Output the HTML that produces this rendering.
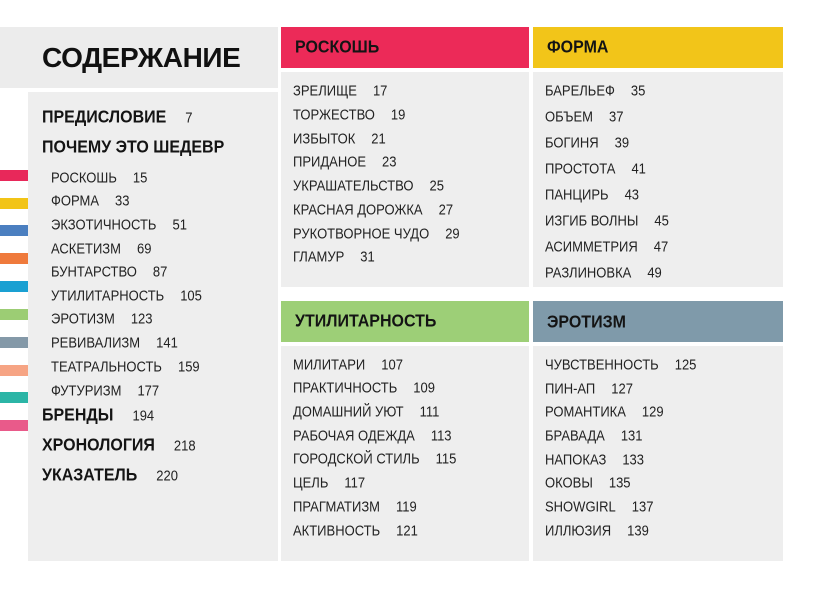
<!DOCTYPE html>
<html><head><meta charset="utf-8">
<style>
html,body{margin:0;padding:0;background:#fff;}
body{width:820px;height:589px;position:relative;overflow:hidden;font-family:"Liberation Sans","Noto Sans CJK SC",sans-serif;color:#222;}
.abs{position:absolute;}
.box{position:absolute;background:#eeeeee;}
.bar{position:absolute;left:0;width:28px;height:11px;}
.hd{position:absolute;}
.ht{position:absolute;font-weight:bold;font-size:16px;line-height:20px;color:#141414;white-space:nowrap;transform:scaleY(1.1);transform-origin:left center;}
.r{position:absolute;font-size:13px;line-height:20px;white-space:nowrap;color:#222;transform:scaleY(1.12);transform-origin:left center;}
.r span{margin-left:16px;}
.b{position:absolute;font-size:16px;font-weight:bold;line-height:20px;white-space:nowrap;color:#141414;transform:scaleY(1.1);transform-origin:left center;}
.b span{font-weight:normal;font-size:13px;margin-left:19px;color:#222;}
</style></head><body>

<!-- left column -->
<div class="box" style="left:0;top:27px;width:278px;height:61px;background:#ececec;"></div>
<div class="abs" style="left:42px;top:42px;font-size:28px;font-weight:bold;line-height:32px;color:#111;letter-spacing:-0.4px;white-space:nowrap;">СОДЕРЖАНИЕ</div>
<div class="box" style="left:28px;top:92px;width:250px;height:469px;"></div>

<div class="bar" style="top:170px;background:#e8285a;"></div>
<div class="bar" style="top:198px;background:#f2c416;"></div>
<div class="bar" style="top:225px;background:#4b7fc0;"></div>
<div class="bar" style="top:253px;background:#ef7a3c;"></div>
<div class="bar" style="top:281px;background:#1aa0d2;"></div>
<div class="bar" style="top:309px;background:#9ccd74;"></div>
<div class="bar" style="top:337px;background:#8499a8;"></div>
<div class="bar" style="top:365px;background:#f6a484;"></div>
<div class="bar" style="top:392px;background:#2bb5a6;"></div>
<div class="bar" style="top:420px;background:#e95a8a;"></div>

<div class="b" style="left:42px;top:108px;">ПРЕДИСЛОВИЕ<span>7</span></div>
<div class="b" style="left:42px;top:138px;">ПОЧЕМУ ЭТО ШЕДЕВР</div>
<div class="r" style="left:51px;top:168px;">РОСКОШЬ<span>15</span></div>
<div class="r" style="left:51px;top:191px;">ФОРМА<span>33</span></div>
<div class="r" style="left:51px;top:215px;">ЭКЗОТИЧНОСТЬ<span>51</span></div>
<div class="r" style="left:51px;top:239px;">АСКЕТИЗМ<span>69</span></div>
<div class="r" style="left:51px;top:262px;">БУНТАРСТВО<span>87</span></div>
<div class="r" style="left:51px;top:286px;">УТИЛИТАРНОСТЬ<span>105</span></div>
<div class="r" style="left:51px;top:309px;">ЭРОТИЗМ<span>123</span></div>
<div class="r" style="left:51px;top:333px;">РЕВИВАЛИЗМ<span>141</span></div>
<div class="r" style="left:51px;top:357px;">ТЕАТРАЛЬНОСТЬ<span>159</span></div>
<div class="r" style="left:51px;top:381px;">ФУТУРИЗМ<span>177</span></div>
<div class="b" style="left:42px;top:406px;">БРЕНДЫ<span>194</span></div>
<div class="b" style="left:42px;top:436px;">ХРОНОЛОГИЯ<span>218</span></div>
<div class="b" style="left:42px;top:466px;">УКАЗАТЕЛЬ<span>220</span></div>

<!-- РОСКОШЬ -->
<div class="hd" style="left:281px;top:27px;width:248px;height:41px;background:#ec2a58;"></div>
<div class="ht" style="left:295px;top:38px;">РОСКОШЬ</div>
<div class="box" style="left:281px;top:72px;width:248px;height:215px;"></div>
<div class="r" style="left:293px;top:81px;">ЗРЕЛИЩЕ<span>17</span></div>
<div class="r" style="left:293px;top:105px;">ТОРЖЕСТВО<span>19</span></div>
<div class="r" style="left:293px;top:129px;">ИЗБЫТОК<span>21</span></div>
<div class="r" style="left:293px;top:152px;">ПРИДАНОЕ<span>23</span></div>
<div class="r" style="left:293px;top:176px;">УКРАШАТЕЛЬСТВО<span>25</span></div>
<div class="r" style="left:293px;top:200px;">КРАСНАЯ ДОРОЖКА<span>27</span></div>
<div class="r" style="left:293px;top:224px;">РУКОТВОРНОЕ ЧУДО<span>29</span></div>
<div class="r" style="left:293px;top:247px;">ГЛАМУР<span>31</span></div>

<!-- ФОРМА -->
<div class="hd" style="left:533px;top:27px;width:250px;height:41px;background:#f2c519;"></div>
<div class="ht" style="left:547px;top:38px;">ФОРМА</div>
<div class="box" style="left:533px;top:72px;width:250px;height:215px;"></div>
<div class="r" style="left:545px;top:81px;">БАРЕЛЬЕФ<span>35</span></div>
<div class="r" style="left:545px;top:107px;">ОБЪЕМ<span>37</span></div>
<div class="r" style="left:545px;top:133px;">БОГИНЯ<span>39</span></div>
<div class="r" style="left:545px;top:159px;">ПРОСТОТА<span>41</span></div>
<div class="r" style="left:545px;top:185px;">ПАНЦИРЬ<span>43</span></div>
<div class="r" style="left:545px;top:211px;">ИЗГИБ ВОЛНЫ<span>45</span></div>
<div class="r" style="left:545px;top:237px;">АСИММЕТРИЯ<span>47</span></div>
<div class="r" style="left:545px;top:263px;">РАЗЛИНОВКА<span>49</span></div>

<!-- УТИЛИТАРНОСТЬ -->
<div class="hd" style="left:281px;top:301px;width:248px;height:41px;background:#9dcf77;"></div>
<div class="ht" style="left:295px;top:312px;">УТИЛИТАРНОСТЬ</div>
<div class="box" style="left:281px;top:346px;width:248px;height:215px;"></div>
<div class="r" style="left:293px;top:355px;">МИЛИТАРИ<span>107</span></div>
<div class="r" style="left:293px;top:378px;">ПРАКТИЧНОСТЬ<span>109</span></div>
<div class="r" style="left:293px;top:402px;">ДОМАШНИЙ УЮТ<span>111</span></div>
<div class="r" style="left:293px;top:426px;">РАБОЧАЯ ОДЕЖДА<span>113</span></div>
<div class="r" style="left:293px;top:449px;">ГОРОДСКОЙ СТИЛЬ<span>115</span></div>
<div class="r" style="left:293px;top:473px;">ЦЕЛЬ<span>117</span></div>
<div class="r" style="left:293px;top:497px;">ПРАГМАТИЗМ<span>119</span></div>
<div class="r" style="left:293px;top:521px;">АКТИВНОСТЬ<span>121</span></div>

<!-- ЭРОТИЗМ -->
<div class="hd" style="left:533px;top:301px;width:250px;height:41px;background:#7f9aaa;"></div>
<div class="ht" style="left:547px;top:313px;">ЭРОТИЗМ</div>
<div class="box" style="left:533px;top:346px;width:250px;height:215px;"></div>
<div class="r" style="left:545px;top:355px;">ЧУВСТВЕННОСТЬ<span>125</span></div>
<div class="r" style="left:545px;top:379px;">ПИН-АП<span>127</span></div>
<div class="r" style="left:545px;top:402px;">РОМАНТИКА<span>129</span></div>
<div class="r" style="left:545px;top:426px;">БРАВАДА<span>131</span></div>
<div class="r" style="left:545px;top:450px;">НАПОКАЗ<span>133</span></div>
<div class="r" style="left:545px;top:473px;">ОКОВЫ<span>135</span></div>
<div class="r" style="left:545px;top:497px;">SHOWGIRL<span>137</span></div>
<div class="r" style="left:545px;top:521px;">ИЛЛЮЗИЯ<span>139</span></div>

</body></html>
